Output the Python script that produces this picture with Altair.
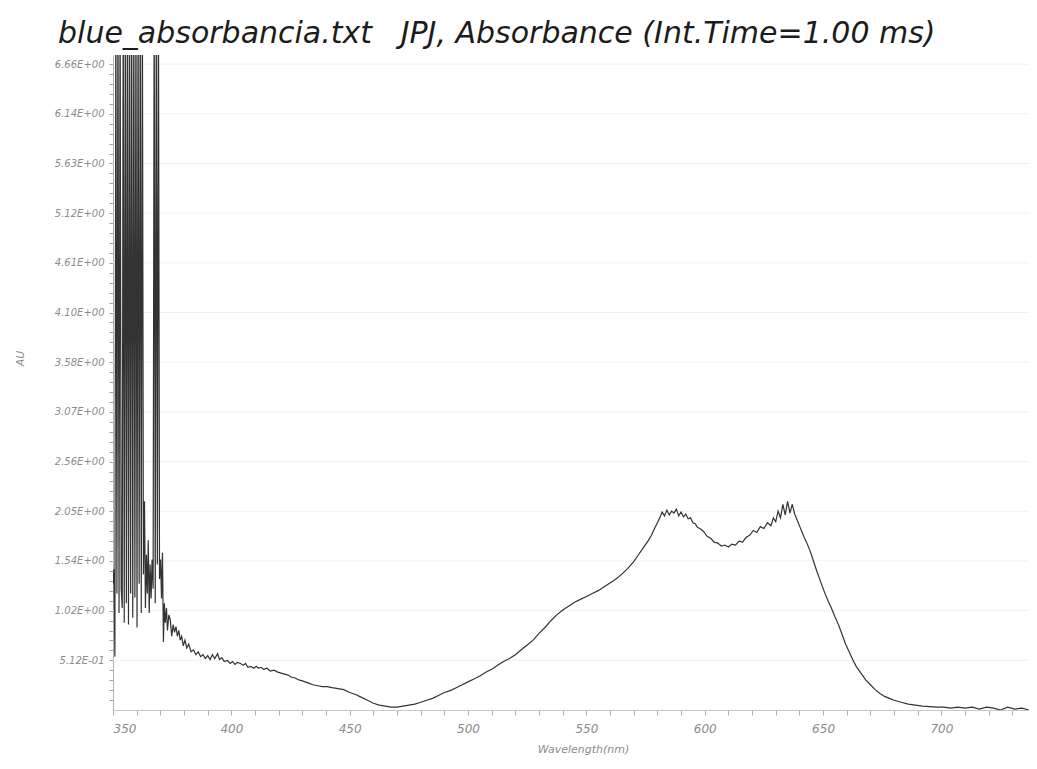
import altair as alt
import pandas as pd

# ---------------- data ----------------
wavelength_nm = [
    350.0, 350.4, 350.8, 351.2, 351.65, 352.1, 352.55, 353.0, 353.45, 353.9,
    354.3, 354.75, 355.2, 355.65, 356.1, 356.55, 357.0, 357.45, 357.9, 358.35,
    358.8, 359.25, 359.7, 360.15, 360.6, 361.05, 361.5, 361.95, 362.4, 362.85,
    363.3, 363.7, 364.1, 364.5, 364.9, 365.3, 365.7, 366.1, 366.5, 366.95,
    367.4, 367.85, 368.3, 368.75, 369.2, 369.65, 370.1, 370.5, 370.9, 371.3,
    371.7, 372.1, 372.6, 373.0,
    373.6, 374.2, 374.8, 375.4, 376.0, 376.6, 377.2, 377.8, 378.4, 379.0,
    379.7, 380.4, 381.2, 382.0, 383.0, 384.0, 385.0, 386.0, 387.0, 388.0,
    389.0, 390.0, 391.0, 392.0, 393.0, 394.2, 395.0, 396.0, 397.0, 398.4,
    399.5, 400.5, 401.5, 402.5, 403.9, 405.0, 406.0, 407.0, 408.2, 409.5,
    410.5, 411.5, 412.5, 413.7, 415.0, 416.5, 418.0, 419.6, 421.0, 422.5,
    424.0, 425.2, 427.0, 428.5, 430.0, 432.4, 434.5, 436.6, 438.5, 440.5,
    442.5, 445.1, 447.5, 450.0, 452.5, 455.0, 457.5, 460.0, 462.5, 465.0,
    467.5, 470.0, 472.5, 475.0, 477.5, 480.0, 482.5, 485.0, 487.5, 490.0,
    492.5, 495.0, 497.5, 500.0, 502.5, 505.0, 507.5, 510.0, 512.5, 515.0,
    517.5, 520.0, 522.5, 525.0, 527.5, 530.0, 532.5, 535.0, 537.5, 540.0,
    542.5, 545.0, 547.5, 550.0, 552.5, 555.0, 557.5, 560.0, 562.5, 565.0,
    567.5, 570.0, 572.0, 574.0, 576.0, 577.5, 579.0, 580.0, 581.0, 582.0,
    583.0, 584.0, 585.0, 586.0, 587.0, 588.0, 589.0, 590.0, 591.0, 592.0,
    593.0, 594.0, 595.0, 596.0, 597.0, 598.0, 599.5, 601.0, 602.5, 604.0,
    605.5, 607.0, 608.5, 610.0, 611.5, 613.0, 614.5, 616.0, 617.5, 619.0,
    620.5, 622.0, 623.5, 625.0, 626.5, 628.0, 629.0, 630.0, 631.0, 632.0,
    633.0, 634.0, 635.0, 636.0, 637.0, 638.0, 639.0, 640.0, 641.0, 642.0,
    643.0, 644.5, 646.0, 647.5, 649.0, 650.5, 652.0, 653.5, 655.0, 656.5,
    658.0, 659.5, 661.0, 662.5, 664.0, 666.0, 668.0, 670.0, 672.0, 674.0,
    676.0, 678.0, 680.0, 683.0, 686.0, 689.0, 692.0, 695.0, 698.0, 701.0,
    704.0, 707.0, 710.0, 713.0, 716.0, 719.0, 722.0, 725.0, 728.0, 731.0,
    734.0, 737.0,
]

absorbance_au = [
    1.30, 1.45, 0.55, 7.50, 1.20, 7.50, 1.00, 7.50, 1.25, 1.05,
    7.50, 0.90, 7.50, 1.10, 7.50, 0.88, 7.50, 1.20, 7.50, 0.95,
    7.50, 1.16, 7.50, 0.85, 7.50, 1.30, 7.50, 1.00, 7.50, 1.40,
    2.15, 1.05, 1.60, 1.20, 1.75, 1.00, 1.50, 1.15, 1.55, 1.25,
    7.50, 1.10, 7.50, 1.50, 7.50, 1.35, 1.55, 1.15, 1.62, 0.70,
    1.10, 0.90, 1.05, 0.82,
    0.98, 0.93, 0.76, 0.88, 0.80, 0.86, 0.76, 0.82, 0.72, 0.76,
    0.66, 0.72, 0.64, 0.68, 0.60, 0.62, 0.57, 0.60, 0.55, 0.57,
    0.53, 0.56, 0.52, 0.57, 0.53, 0.58, 0.52, 0.54, 0.50, 0.51,
    0.48, 0.50, 0.47, 0.49, 0.48, 0.46, 0.48, 0.44, 0.45, 0.43,
    0.45, 0.43, 0.44, 0.42, 0.43, 0.40, 0.41, 0.39, 0.38, 0.37,
    0.36, 0.34, 0.33, 0.31, 0.30, 0.28, 0.26, 0.25, 0.24, 0.24,
    0.23, 0.22, 0.21, 0.18, 0.16, 0.13, 0.10, 0.07, 0.05, 0.04,
    0.03, 0.03, 0.04, 0.05, 0.06, 0.08, 0.10, 0.12, 0.15, 0.18,
    0.20, 0.23, 0.26, 0.29, 0.32, 0.35, 0.39, 0.42, 0.46, 0.50,
    0.53, 0.57, 0.62, 0.67, 0.72, 0.79, 0.85, 0.92, 0.98, 1.03,
    1.07, 1.11, 1.14, 1.17, 1.20, 1.23, 1.27, 1.31, 1.35, 1.40,
    1.46, 1.53, 1.60, 1.67, 1.74, 1.80, 1.88, 1.93, 1.98, 2.04,
    2.00, 2.06, 2.01, 2.05, 2.03, 2.07, 2.00, 2.04, 1.99, 2.02,
    1.97, 1.98, 1.93, 1.92, 1.88, 1.87, 1.84, 1.79, 1.77, 1.73,
    1.72, 1.69, 1.70, 1.68, 1.71, 1.70, 1.74, 1.73, 1.78, 1.80,
    1.85, 1.83, 1.89, 1.87, 1.93, 1.90, 1.98, 1.94, 2.05, 1.98,
    2.12, 2.01, 2.15, 2.03, 2.12, 2.02, 1.96, 1.90, 1.84, 1.78,
    1.73, 1.64, 1.53, 1.42, 1.32, 1.22, 1.13, 1.05, 0.96, 0.88,
    0.78, 0.68, 0.60, 0.52, 0.45, 0.38, 0.31, 0.26, 0.21, 0.17,
    0.14, 0.12, 0.10, 0.08, 0.06, 0.05, 0.04, 0.035, 0.03, 0.03,
    0.02, 0.03, 0.02, 0.03, 0.01, 0.03, 0.02, 0.00, 0.03, 0.01,
    0.02, 0.00,
]

y_major_labels = [
    "5.12E-01", "1.02E+00", "1.54E+00", "2.05E+00", "2.56E+00", "3.07E+00",
    "3.58E+00", "4.10E+00", "4.61E+00", "5.12E+00", "5.63E+00", "6.14E+00",
    "6.66E+00",
]
y_major_step = 0.512
x_label_step = 50
x_tick_values = list(range(350, 740, 10))

TITLE = "blue_absorbancia.txt\u00a0\u00a0\u00a0JPJ, Absorbance (Int.Time=1.00 ms)"
FONT = "DejaVu Sans"

# ---------------- chart ----------------
df = pd.DataFrame({"nm": wavelength_nm, "au": absorbance_au})
df["order"] = range(len(df))

y_tick_values = [round(y_major_step / 5 * i, 4) for i in range(1, 66)]
grid_df = pd.DataFrame({"g": [round(y_major_step * (i + 1), 4) for i in range(len(y_major_labels))]})

label_cases = " : ".join(
    f"abs(datum.value - {round(y_major_step * (i + 1), 4)}) < 0.01 ? '{lab}'"
    for i, lab in enumerate(y_major_labels)
) + " : ''"
y_label_expr = label_cases
x_label_expr = f"datum.value % {x_label_step} == 0 ? datum.label : ''"

x_scale = alt.Scale(domain=[350, 737], nice=False, zero=False)
y_scale = alt.Scale(domain=[0, 6.75], nice=False, zero=False)

x_axis = alt.Axis(
    values=x_tick_values, labelExpr=x_label_expr, labelOverlap=False,
    labelFont=FONT, labelFontStyle="italic", labelFontSize=12, labelColor="#8c8c8c",
    labelPadding=8, tickColor="#b0b0b0", tickSize=5, domainColor="#c8c8c8",
    grid=False, title="Wavelength(nm)", titleFont=FONT, titleFontSize=11,
    titleFontStyle="italic", titleFontWeight="normal", titleColor="#8c8c8c",
    titleX=470, titleY=33,
)
y_axis = alt.Axis(
    values=y_tick_values, labelExpr=y_label_expr, labelOverlap=False,
    labelFont=FONT, labelFontStyle="italic", labelFontSize=10, labelColor="#8c8c8c",
    labelPadding=5, tickColor="#a0a0a0", tickSize=4, domainColor="#b0b0b0",
    grid=False, title="AU", titleFont=FONT, titleFontSize=11,
    titleFontStyle="italic", titleFontWeight="normal", titleColor="#8c8c8c",
    titleX=-88, titleY=303,
)

grid = alt.Chart(grid_df).mark_rule(color="#f1f1f1", strokeWidth=1).encode(
    y=alt.Y("g:Q", scale=y_scale, axis=y_axis)
)

line = alt.Chart(df).mark_line(color="#333333", strokeWidth=1.2, clip=True).encode(
    x=alt.X("nm:Q", scale=x_scale, axis=x_axis),
    y=alt.Y("au:Q", scale=y_scale, axis=y_axis),
    order="order:Q",
)

chart = (
    alt.layer(grid, line)
    .properties(
        width=916,
        height=655,
        autosize=alt.AutoSizeParams(type="none"),
        padding={"left": 105, "top": 47, "right": 0, "bottom": 50},
        background="white",
        title=alt.TitleParams(
            text=TITLE, anchor="start", dx=-55, dy=33, offset=15, baseline="alphabetic",
            font=FONT, fontSize=30, fontStyle="italic", fontWeight="normal",
            color="#1c1c1c", frame="group",
        ),
    )
    .configure_view(strokeWidth=0)
)

chart.save("out.html", embed_options={"renderer": "svg", "actions": False})
